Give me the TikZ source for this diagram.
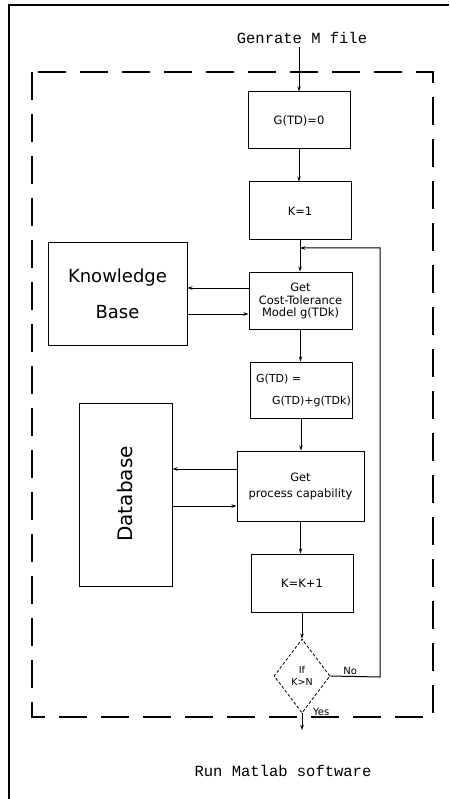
\documentclass[tikz,border=0pt]{standalone}
\usepackage{fontspec}
\setmainfont{DejaVu Sans}
\newfontfamily\labelfont{Liberation Mono}
\usetikzlibrary{arrows.meta,shapes.geometric}

\tikzset{
  box/.style={draw, line width=1pt, inner sep=0pt, font=\fontsize{11.5}{14}\selectfont, align=center},
  bigbox/.style={draw, line width=1pt, inner sep=0pt, align=center},
  flow/.style={line width=1pt, -{Stealth[length=5pt,width=3.5pt]}},
  outline/.style={line width=1.1pt, dash pattern=on 28pt off 14pt},
  decision/.style={draw, diamond, line width=0.8pt, dash pattern=on 3pt off 2pt, inner sep=0pt,
    minimum width=56pt, minimum height=74pt, font=\fontsize{9.5}{11.5}\selectfont, align=center},
  outtext/.style={font=\labelfont\fontsize{15.5}{18}\selectfont},
  small/.style={font=\fontsize{10}{12}\selectfont, inner sep=1pt}
}

\begin{document}
\begin{tikzpicture}[x=1pt,y=-1pt]
  \useasboundingbox (0,0) rectangle (449,799);

  % page frame
  \draw[line width=1.4pt] (9,799) -- (9,5) -- (449,5);

  % software boundary
  \draw[outline] (32,72) rectangle (433,717);

  % labels outside the boundary
  \node[outtext] (genr) at (302,38) {Genrate M file};
  \node[outtext] (run) at (283,771) {Run Matlab software};

  % process steps
  \node[box, minimum width=102pt, minimum height=57pt] (g0) at (299,120.5) {G(TD)=0};
  \node[box, minimum width=102pt, minimum height=58pt] (k1) at (300,211) {K=1};
  \node[box, minimum width=103pt, minimum height=57pt] (cost) at (300.5,300.5)
    {Get\\[-1pt]Cost-Tolerance\\[-2pt]Model g(TDk)};
  \node[box, minimum width=102pt, minimum height=56pt] (sum) at (301,390) {};
  \node[small, font=\fontsize{11}{13}\selectfont, anchor=west] (sumA) at (255,379) {G(TD) =};
  \node[small, font=\fontsize{11}{13}\selectfont, anchor=east] (sumB) at (352,401) {G(TD)+g(TDk)};
  \node[box, minimum width=127pt, minimum height=70pt] (proc) at (300.5,486)
    {Get\\[2pt]process capability};
  \node[box, minimum width=102pt, minimum height=58pt] (kk) at (302,583) {K=K+1};
  \node[decision] (dec) at (302,676) {If\\K>N};

  % data sources
  \node[bigbox, minimum width=139pt, minimum height=102pt,
        font=\fontsize{18}{36}\selectfont] (kb) at (117.5,294) {Knowledge\\Base};
  \node[bigbox, minimum width=93pt, minimum height=183pt] (db) at (125.5,494.5) {};
  \node[rotate=90, font=\fontsize{20}{24}\selectfont] (dbt) at (125,494) {Database};

  % main flow
  \draw[flow] (g0.north |- genr.south) -- (g0.north);
  \draw[flow] (g0.south) -- (g0.south |- k1.north);
  \draw[flow] (k1.south) -- (k1.south |- cost.north);
  \draw[flow] (cost.south) -- (cost.south |- sum.north);
  \draw[flow] (sum.south) -- (sum.south |- proc.north);
  \draw[flow] (proc.south) -- (proc.south |- kk.north);
  \draw[flow] (kk.south) -- (dec.north);

  % loop back while K<=N
  \coordinate (loopR) at (380,677);
  \coordinate (loopT) at (380,248);
  \draw[flow] (dec.east) -- node[small, above, pos=0.4] (no) {No} (loopR) -- (loopT) -- (loopT -| k1.south);

  % exit when K>N
  \coordinate (exit) at (302,730);
  \draw[flow] (dec.south) -- (exit);
  \node[small, anchor=west] (yes) at (312,712) {Yes};

  % knowledge base exchange
  \draw[flow] ([yshift=12.5pt]cost.west) -- ([yshift=12.5pt]cost.west -| kb.east);
  \draw[flow] ([yshift=-13.5pt]cost.west -| kb.east) -- ([yshift=-13.5pt]cost.west);

  % database exchange
  \draw[flow] ([yshift=17pt]proc.west) -- ([yshift=17pt]proc.west -| db.east);
  \draw[flow] ([yshift=-20pt]proc.west -| db.east) -- ([yshift=-20pt]proc.west);
\end{tikzpicture}
\end{document}
